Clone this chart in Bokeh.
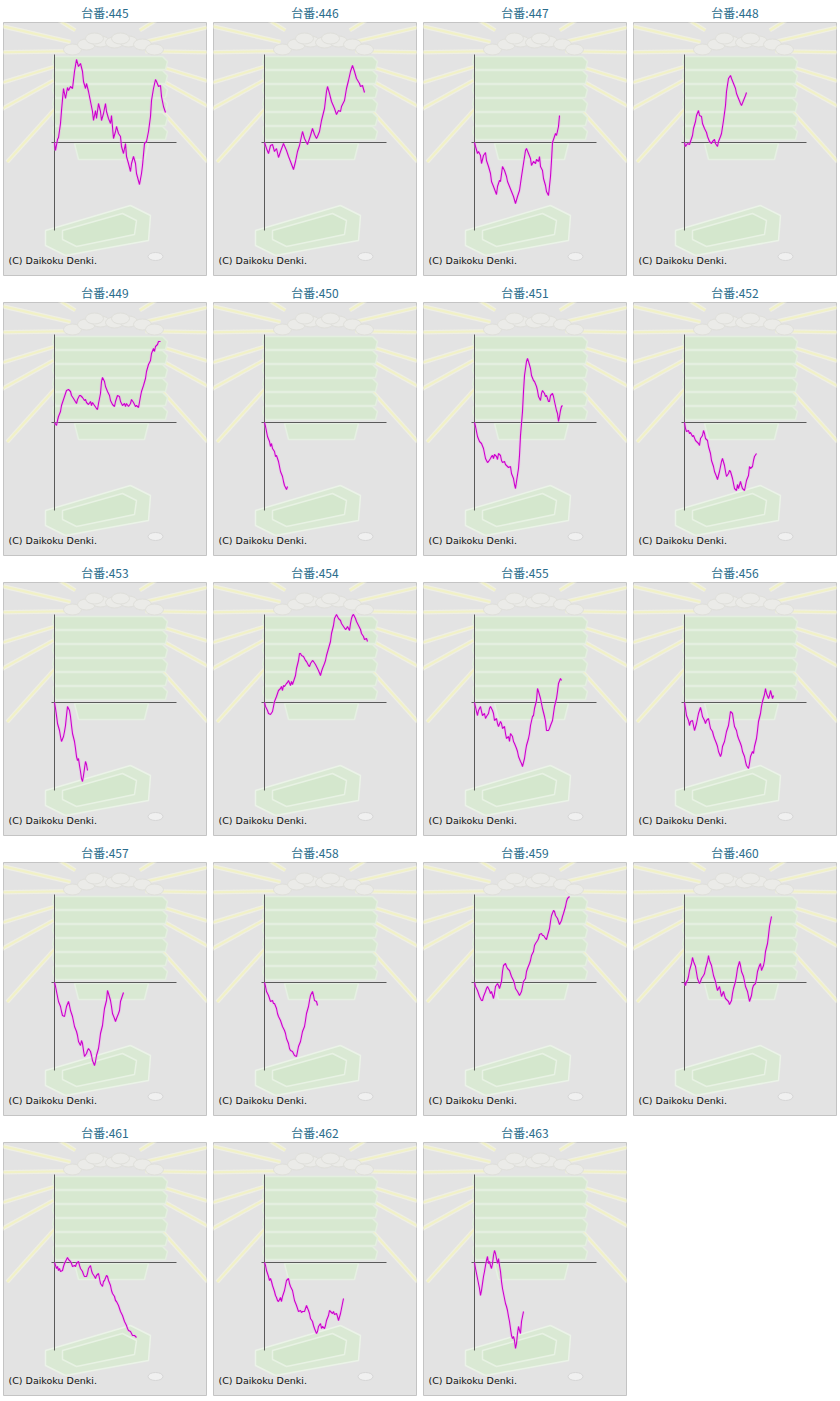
import math
from bokeh.plotting import figure
from bokeh.layouts import gridplot
from bokeh.embed import file_html
from bokeh.resources import INLINE
from bokeh.core.properties import value

# ---------------- data (game progress vs. medal difference, chart units) ----------------
MACHINES = [445, 446, 447, 448, 449, 450, 451, 452, 453, 454,
            455, 456, 457, 458, 459, 460, 461, 462, 463]
TITLE_PREFIX = "台番:"
COPYRIGHT = "(C) Daikoku Denki."

g445_x = [0, 1, 3, 4, 6, 7, 9, 11, 13, 14, 16, 18, 20, 22, 24, 26, 28, 29, 31, 32, 34, 36, 38, 39, 41, 42, 44, 46, 47, 49,
          51, 52, 54, 56, 57, 59, 61, 62, 64, 66, 67, 69, 71, 72, 74, 76, 77, 79, 81, 82, 85, 87, 88, 90, 92, 94, 96, 97,
          99, 101, 102, 104, 106, 107, 109, 111]
g445_y = [0, -8, 3, 5, 19, 32, 54, 44, 55, 52, 56, 54, 71, 83, 76, 79, 71, 61, 54, 59, 51, 41, 31, 22, 32, 24, 39, 31, 22, 29,
          39, 31, 24, 19, 27, 4, 11, 16, 9, 6, -4, -11, -1, -14, -21, -29, -21, -14, -21, -31, -42, -31, -23, -1, 1, 11, 26, 42,
          54, 63, 61, 56, 57, 46, 36, 30]

g446_x = [0, 2, 4, 6, 8, 10, 12, 14, 16, 19, 22, 24, 26, 29, 31, 33, 35, 38, 40, 43, 46, 48, 50, 52, 53, 55, 57, 60, 62, 63,
          65, 67, 70, 72, 74, 76, 77, 80, 82, 84, 86, 88, 90, 92, 95, 96, 98, 100]
g446_y = [0, -6, -11, -3, -2, -9, -6, -15, -9, -1, -8, -14, -19, -27, -19, -9, -3, 11, 4, -2, 7, 14, 8, 4, 6, 11, 22, 34, 51, 56,
          49, 41, 34, 28, 32, 31, 36, 42, 54, 62, 71, 77, 71, 64, 59, 56, 57, 50]

g447_x = [0, 1, 3, 4, 6, 7, 9, 11, 12, 14, 16, 17, 19, 22, 23, 25, 26, 28, 30, 32, 33, 35, 37, 39, 41, 43, 45, 47, 49, 51,
          52, 54, 56, 57, 59, 61, 62, 64, 65, 66, 68, 69, 71, 72, 74, 76, 77, 78, 80, 81, 82, 84, 85]
g447_y = [0, -4, -11, -9, -13, -21, -13, -10, -18, -24, -31, -39, -44, -52, -44, -38, -39, -24, -28, -34, -39, -44, -49, -54, -61,
          -54, -48, -34, -21, -8, -6, -11, -16, -23, -19, -21, -17, -19, -14, -24, -28, -36, -43, -49, -53, -34, -18, 0, 6, 9, 7,
          16, 27]

g448_x = [0, 1, 3, 5, 6, 8, 9, 11, 12, 14, 15, 17, 18, 20, 22, 23, 25, 27, 28, 30, 31, 33, 34, 36, 37, 39, 41, 42, 44, 46,
          47, 49, 51, 52, 54, 56, 57, 59, 61, 62]
g448_y = [0, -4, -1, -2, 1, 7, 14, 21, 27, 32, 27, 26, 19, 14, 10, 6, 1, -1, 1, 3, -1, -4, 1, 6, 9, 22, 37, 51, 64, 67,
          64, 59, 54, 49, 44, 39, 37, 42, 47, 50]

g449_x = [0, 2, 3, 4, 6, 7, 9, 11, 12, 14, 16, 17, 19, 22, 23, 25, 26, 28, 30, 31, 32, 34, 36, 37, 38, 40, 42, 43, 44, 46,
          47, 48, 50, 51, 53, 55, 56, 58, 60, 61, 63, 65, 66, 68, 70, 71, 72, 74, 76, 77, 79, 81, 82, 84, 86, 87, 89, 91,
          92, 94, 96, 97, 99, 100, 101, 103, 104, 106]
g449_y = [0, -3, 2, 6, 11, 17, 23, 29, 32, 33, 31, 27, 24, 19, 23, 27, 27, 25, 22, 23, 20, 18, 21, 17, 20, 17, 14, 13, 19, 29,
          41, 45, 41, 36, 31, 27, 22, 18, 16, 21, 27, 26, 21, 17, 19, 16, 19, 16, 19, 23, 20, 16, 17, 15, 26, 31, 37, 44,
          51, 58, 62, 69, 74, 71, 76, 78, 81, 81]

g450_x = [0, 1, 2, 3, 5, 6, 7, 8, 10, 11, 12, 14, 15, 16, 18, 19, 20, 22, 23]
g450_y = [0, -4, -9, -14, -19, -24, -21, -26, -29, -34, -33, -39, -44, -49, -54, -59, -63, -67, -64]

g451_x = [0, 1, 2, 3, 5, 7, 9, 10, 11, 13, 14, 16, 17, 18, 19, 20, 22, 23, 24, 26, 27, 28, 30, 31, 32, 34, 36, 37, 39, 40,
          41, 42, 44, 45, 46, 48, 49, 50, 52, 53, 54, 56, 57, 59, 60, 62, 63, 64, 66, 67, 68, 70, 71, 72, 74, 75, 76, 78,
          79, 80, 82, 83, 84, 85, 86, 87, 88]
g451_y = [0, -4, -9, -14, -19, -21, -26, -31, -36, -40, -39, -36, -34, -33, -36, -32, -34, -37, -31, -33, -38, -40, -39, -42, -43,
          -45, -44, -51, -56, -62, -66, -59, -46, -33, -13, 11, 31, 47, 61, 64, 61, 54, 47, 42, 41, 36, 32, 26, 22, 29, 32, 29,
          26, 27, 21, 21, 27, 29, 26, 21, 12, 9, 1, 6, 12, 16, 17]

g452_x = [0, 1, 2, 4, 5, 6, 8, 9, 11, 12, 14, 15, 16, 18, 19, 20, 21, 23, 24, 26, 27, 29, 30, 32, 33, 35, 37, 38, 40, 41,
          42, 44, 45, 46, 48, 49, 50, 52, 53, 54, 56, 57, 58, 60, 61, 62, 64, 65, 66, 68, 69, 70, 72]
g452_y = [0, -6, -9, -8, -11, -10, -14, -13, -18, -19, -21, -23, -16, -13, -8, -11, -16, -18, -24, -31, -38, -44, -49, -54, -57,
          -49, -39, -36, -43, -49, -54, -51, -48, -49, -56, -61, -66, -68, -62, -66, -59, -63, -66, -68, -63, -58, -53, -44,
          -46, -44, -38, -34, -31]

g453_x = [0, 1, 2, 3, 5, 6, 7, 9, 10, 11, 12, 13, 15, 16, 17, 18, 20, 21, 22, 23, 24, 25, 26, 27, 28, 29, 30, 31, 32, 33]
g453_y = [0, -6, -13, -21, -28, -34, -39, -34, -29, -23, -13, -4, -8, -14, -23, -31, -39, -46, -54, -58, -56, -63, -69, -76, -79,
          -73, -66, -59, -62, -68]

g454_x = [0, 1, 3, 4, 6, 8, 9, 10, 12, 13, 14, 16, 17, 18, 19, 20, 22, 23, 24, 26, 27, 28, 30, 31, 32, 34, 35, 36, 37, 39,
          41, 42, 44, 45, 46, 48, 49, 51, 52, 54, 56, 57, 58, 60, 61, 62, 64, 66, 67, 69, 70, 72, 73, 74, 76, 77, 79, 81,
          82, 83, 85, 86, 87, 88, 89, 91, 92, 94, 96, 97, 99, 100, 102, 103]
g454_y = [0, -4, -8, -11, -12, -9, -4, 1, 6, 9, 12, 14, 16, 12, 17, 16, 19, 20, 22, 17, 21, 18, 24, 27, 34, 42, 49, 49, 47, 46,
          42, 41, 37, 36, 39, 42, 41, 38, 36, 32, 27, 31, 34, 39, 42, 47, 54, 61, 69, 77, 84, 88, 86, 84, 82, 79, 76, 73,
          74, 76, 72, 79, 84, 87, 88, 84, 81, 77, 73, 69, 66, 63, 64, 61]

g455_x = [0, 2, 3, 4, 6, 7, 8, 10, 11, 12, 14, 15, 16, 18, 19, 20, 22, 23, 24, 26, 27, 28, 30, 31, 32, 34, 35, 36, 38, 39,
          40, 42, 43, 44, 46, 47, 48, 50, 51, 52, 54, 55, 56, 58, 59, 60, 62, 63, 64, 66, 67, 68, 70, 71, 72, 74, 75, 76,
          78, 79, 80, 82, 83, 84, 86, 87]
g455_y = [0, -9, -13, -8, -4, -9, -13, -11, -16, -14, -11, -6, -4, -8, -11, -18, -16, -21, -24, -19, -21, -26, -24, -31, -36,
          -34, -39, -31, -34, -39, -41, -46, -49, -54, -59, -61, -64, -56, -49, -43, -36, -31, -23, -14, -13, -6, 2, 14, 11, 4,
          -1, -6, -14, -19, -28, -28, -26, -23, -18, -11, -4, 4, 11, 19, 24, 22]

g456_x = [0, 1, 2, 4, 5, 6, 8, 9, 10, 12, 13, 14, 16, 17, 18, 20, 21, 22, 24, 25, 26, 28, 29, 30, 32, 33, 34, 36, 37, 38,
          40, 41, 42, 44, 45, 46, 48, 49, 50, 52, 53, 54, 56, 57, 58, 60, 61, 62, 64, 65, 66, 68, 69, 70, 72, 73, 74, 76,
          77, 78, 80, 81, 82, 84, 85, 86, 88, 89]
g456_y = [0, -6, -13, -18, -23, -19, -18, -23, -28, -21, -16, -11, -5, -9, -14, -18, -21, -18, -16, -21, -26, -29, -33, -36, -41,
          -44, -49, -54, -51, -44, -39, -34, -29, -23, -16, -9, -11, -18, -24, -28, -33, -36, -41, -44, -49, -54, -59, -63,
          -66, -61, -54, -49, -51, -44, -36, -28, -19, -11, -4, 1, 8, 14, 9, 4, 7, 12, 4, 7]

g457_x = [0, 1, 2, 3, 4, 6, 7, 8, 10, 11, 12, 14, 15, 16, 18, 19, 20, 22, 23, 24, 26, 27, 28, 29, 30, 32, 33, 34, 36, 37,
          38, 40, 41, 42, 44, 45, 46, 48, 49, 50, 52, 53, 54, 56, 57, 58, 60, 61, 62, 64, 65, 66, 68, 69]
g457_y = [0, -4, -9, -14, -19, -24, -29, -33, -34, -29, -24, -19, -23, -28, -34, -39, -44, -49, -53, -59, -63, -58, -61, -68, -74,
          -71, -68, -66, -69, -73, -78, -83, -79, -73, -66, -59, -51, -43, -34, -26, -18, -8, -11, -18, -24, -31, -36, -39, -36,
          -31, -28, -19, -13, -10]

g458_x = [0, 1, 2, 4, 5, 6, 8, 9, 10, 12, 13, 14, 16, 17, 18, 20, 21, 22, 24, 25, 26, 28, 29, 30, 32, 33, 34, 36, 37, 38,
          40, 41, 42, 44, 45, 46, 48, 49, 50, 52, 53]
g458_y = [0, -4, -9, -13, -16, -19, -18, -21, -21, -26, -31, -34, -38, -41, -44, -48, -51, -56, -61, -66, -68, -69, -71, -73,
          -74, -69, -64, -59, -54, -49, -44, -38, -31, -24, -18, -13, -9, -13, -18, -19, -23]

g459_x = [0, 1, 3, 4, 5, 7, 8, 9, 11, 12, 13, 15, 16, 17, 19, 20, 21, 23, 24, 25, 27, 28, 29, 31, 32, 33, 35, 36, 37, 39,
          40, 41, 43, 44, 45, 47, 48, 49, 51, 52, 53, 55, 56, 57, 59, 60, 61, 63, 64, 65, 67, 68, 69, 71, 72, 73, 75, 76,
          77, 79, 80, 81, 83, 84, 85, 87, 88, 89, 91, 92, 93, 95]
g459_y = [0, -4, -8, -11, -14, -18, -18, -14, -9, -6, -4, -8, -11, -9, -16, -11, -4, -1, -3, -6, 1, 11, 17, 19, 16, 14, 12, 9,
          6, 2, -1, -6, -9, -11, -13, -9, -4, 1, 4, 11, 14, 19, 22, 27, 31, 37, 39, 42, 44, 48, 49, 47, 47, 44, 43, 47, 54,
          61, 67, 72, 71, 67, 64, 61, 58, 62, 66, 69, 76, 81, 84, 86]

g460_x = [0, 1, 2, 3, 4, 5, 7, 8, 9, 11, 12, 13, 15, 16, 17, 19, 20, 21, 23, 24, 25, 27, 28, 29, 31, 32, 33, 35, 36, 37,
          39, 40, 41, 43, 44, 45, 47, 48, 49, 51, 52, 53, 55, 56, 57, 59, 60, 61, 63, 64, 65, 67, 68, 69, 71, 72, 73, 75,
          76, 77, 79, 80, 81, 83, 84, 85, 87]
g460_y = [0, -3, 1, 2, 6, 12, 19, 25, 21, 16, 10, 4, -1, 1, 4, 7, 9, 14, 21, 27, 22, 17, 12, 7, 1, -4, -8, -4, -9, -14, -9,
          -13, -16, -18, -19, -22, -18, -11, -6, 1, 7, 14, 21, 17, 11, 6, 1, -4, -9, -14, -19, -13, -6, -3, -1, 4, 11, 17,
          19, 12, 17, 22, 31, 39, 47, 56, 66]

g461_x = [0, 1, 2, 3, 4, 5, 6, 8, 9, 10, 12, 13, 14, 16, 17, 18, 20, 21, 22, 24, 25, 26, 28, 29, 30, 32, 33, 34, 36, 37,
          38, 40, 41, 42, 44, 45, 46, 48, 49, 50, 52, 53, 54, 56, 57, 58, 60, 61, 62, 64, 65, 66, 68, 69, 70, 72, 73, 74,
          76, 77, 78, 80, 81, 82]
g461_y = [0, -3, -6, -4, -8, -6, -9, -8, -4, -1, 3, 5, 3, 1, -1, -4, -3, -4, -1, 1, -3, -6, -9, -12, -14, -14, -11, -6, -3, -8,
          -11, -14, -16, -13, -11, -16, -21, -24, -19, -18, -13, -14, -18, -23, -28, -31, -34, -38, -39, -43, -46, -49, -53,
          -56, -59, -63, -66, -68, -69, -71, -73, -73, -74, -75]

g462_x = [0, 1, 2, 3, 4, 5, 6, 7, 8, 9, 10, 11, 12, 13, 14, 16, 17, 18, 20, 21, 22, 24, 25, 26, 28, 29, 30, 32, 33, 34,
          36, 37, 38, 40, 41, 42, 44, 45, 46, 48, 49, 50, 52, 53, 54, 56, 57, 58, 60, 61, 62, 64, 65, 66, 68, 69, 70, 72,
          73, 74, 76, 77, 78, 79]
g462_y = [0, -3, -8, -11, -14, -18, -16, -19, -23, -26, -29, -33, -35, -38, -39, -35, -39, -34, -28, -23, -18, -16, -21, -24,
          -28, -33, -38, -43, -46, -49, -48, -50, -49, -49, -46, -43, -48, -51, -56, -59, -63, -66, -71, -69, -64, -61, -66,
          -64, -66, -63, -58, -53, -48, -49, -51, -49, -52, -51, -54, -58, -51, -46, -41, -36]

g463_x = [0, 1, 2, 3, 4, 5, 6, 7, 8, 9, 10, 11, 12, 13, 14, 15, 16, 17, 18, 19, 20, 21, 22, 23, 24, 25, 26, 27, 28, 29,
          30, 31, 32, 33, 34, 35, 36, 37, 38, 39, 40, 41, 42, 43, 44, 45, 46, 47, 48, 49]
g463_y = [0, -6, -11, -16, -21, -26, -33, -28, -21, -14, -9, -3, 2, 6, -1, 1, -3, -6, -1, 7, 12, 9, 4, -1, 4, -3, -9, -19,
          -26, -31, -36, -41, -44, -48, -54, -59, -66, -73, -76, -74, -78, -86, -81, -71, -64, -68, -71, -59, -54, -49]

SERIES = {
    445: (g445_x, g445_y), 446: (g446_x, g446_y), 447: (g447_x, g447_y), 448: (g448_x, g448_y),
    449: (g449_x, g449_y), 450: (g450_x, g450_y), 451: (g451_x, g451_y), 452: (g452_x, g452_y),
    453: (g453_x, g453_y), 454: (g454_x, g454_y), 455: (g455_x, g455_y), 456: (g456_x, g456_y),
    457: (g457_x, g457_y), 458: (g458_x, g458_y), 459: (g459_x, g459_y), 460: (g460_x, g460_y),
    461: (g461_x, g461_y), 462: (g462_x, g462_y), 463: (g463_x, g463_y),
}

# axis extents (chart units)
AXIS_X_MAX = 122
AXIS_Y_MAX = 88

# ---------------- style ----------------
LINE_COLOR = "#cc00cc"
TITLE_COLOR = "#2a6c8c"
BG = "#e3e3e3"
CELL_W, CELL_H = 210, 280
X_RANGE = (-51, 152)
Y_RANGE = (-133, 120)


def decorate(p):
    # sun rays
    cx, cy = 53, 92
    angles = [52, 66, 80, 96, 112, 128, 148, 167, 181, 197, 209, 228, 32, 13, -1, -17, -29, -48]
    xs0, ys0, xs1, ys1 = [], [], [], []
    for a in angles:
        r = math.radians(a)
        xs0.append(cx + 38 * math.cos(r)); ys0.append(cy + 38 * math.sin(r))
        xs1.append(cx + 150 * math.cos(r)); ys1.append(cy + 150 * math.sin(r))
    p.segment(xs0, ys0, xs1, ys1, line_color="#f6f6e4", line_width=4.5, line_alpha=0.6)
    p.segment(xs0, ys0, xs1, ys1, line_color="#f1f1c6", line_width=2)
    # coin pile
    p.ellipse(x=[18, 32, 46, 60, 74, 88, 100, 40, 66],
              y=[93, 98, 101, 100, 101, 98, 93, 104, 104],
              width=18, height=11, fill_color="#ebebe8", line_color="#dfdfda")
    # green stacked boxes
    p.patch([20, 94, 90, 24], [-1, -1, -17, -17], fill_color="#d9e9d3", line_color="#e6f0e3", line_width=1.5)
    for k in range(6):
        top = 86 - k * 14
        p.patch([-1, 108, 113, 111, 1, -2], [top, top, top - 5, top - 13, top - 13, top - 6],
                fill_color="#d7e8d0", line_color="#e4efe0", line_width=1.5)
    # tray
    p.patch([-9, 76, 96, 94, 11, -9], [-88, -63, -73, -98, -113, -103],
            fill_color="#dae9d4", line_color="#ebf3e8", line_width=1.5)
    p.patch([8, 68, 82, 80, 22, 8], [-88, -71, -78, -92, -104, -97],
            fill_color="#d4e7cd", line_color="#e8f2e4", line_width=1.5)
    p.ellipse(x=[101], y=[-114], width=15, height=8, fill_color="#f0f0f0", line_color="#d6d6d6")


figs = []
for m in MACHINES:
    xs, ys = SERIES[m]
    p = figure(width=CELL_W, height=CELL_H, x_range=X_RANGE, y_range=Y_RANGE,
               output_backend="svg", toolbar_location=None,
               x_axis_location=None, y_axis_location=None,
               min_border_left=3, min_border_right=4, min_border_top=22, min_border_bottom=5,
               background_fill_color=BG, border_fill_color="white",
               outline_line_color="#c4c4c4", outline_line_width=1)
    p.title.text = f"{TITLE_PREFIX}{m}"
    p.title.align = "center"
    p.title.text_font = "Noto Sans CJK JP"
    p.title.text_font_size = "12px"
    p.title.text_font_style = "normal"
    p.title.text_color = TITLE_COLOR
    p.title.standoff = 3
    p.xgrid.visible = False
    p.ygrid.visible = False
    decorate(p)
    # axes
    p.segment(x0=[0, -3], y0=[-AXIS_Y_MAX, 0], x1=[0, AXIS_X_MAX], y1=[AXIS_Y_MAX, 0],
              line_color="#5a5a5a", line_width=1)
    # data line
    p.line(xs, ys, line_color="#f0a0f0", line_width=3, line_alpha=0.35)
    p.line(xs, ys, line_color=LINE_COLOR, line_width=1.1)
    p.text(x=[-46], y=[-118], text=[COPYRIGHT], text_font=value("DejaVu Sans"),
           text_font_size="9.5px", text_color="#111111", text_baseline="middle")
    figs.append(p)

grid = gridplot(figs, ncols=4, toolbar_location=None)

open("out.html", "w").write(file_html(grid, INLINE))
